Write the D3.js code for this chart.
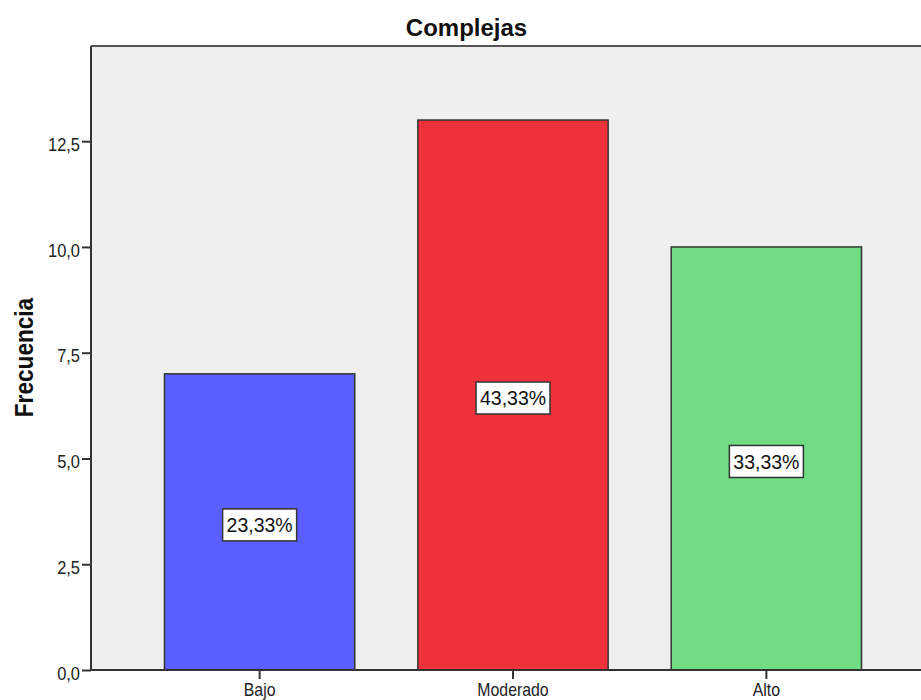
<!DOCTYPE html>
<html>
<head>
<meta charset="utf-8">
<script src="https://cdn.jsdelivr.net/npm/d3@7"></script>
<style>
  html, body { margin: 0; padding: 0; background: #ffffff; }
  svg { display: block; font-family: Arial, "Liberation Sans", sans-serif; }
</style>
</head>
<body>
<svg id="chart" width="921" height="700"></svg>
<script>
// Frequency of "Complejas" by level
const categories = ["Bajo", "Moderado", "Alto"];
const counts = [7, 13, 10];
const percentLabels = ["23,33%", "43,33%", "33,33%"];
const barColors = ["#5b5fff", "#ef3139", "#70dc84"];
const yTicks = [0, 2.5, 5, 7.5, 10, 12.5];
const yMax = 14.75;

const svg = d3.select("#chart");
const plot = { left: 91, top: 46, right: 935, bottom: 670 };

// narrow a text horizontally while keeping its anchor position
function squeeze(sel, k) {
  sel.each(function () {
    const t = d3.select(this);
    const x0 = +t.attr("x") || 0;
    t.attr("x", x0 / k);
    const prev = t.attr("transform");
    t.attr("transform", (prev ? prev + " " : "") + `scale(${k},1)`);
  });
}

const x = d3.scaleBand()
  .domain(categories)
  .range([plot.left, plot.right])
  .paddingInner(0.249)
  .paddingOuter(0.29);

const y = d3.scaleLinear()
  .domain([0, yMax])
  .range([plot.bottom, plot.top]);

// plot background
svg.append("rect")
  .attr("x", plot.left).attr("y", plot.top)
  .attr("width", plot.right - plot.left)
  .attr("height", plot.bottom - plot.top)
  .attr("fill", "#efefef");

// top frame line
svg.append("line")
  .attr("x1", plot.left).attr("x2", plot.right)
  .attr("y1", plot.top).attr("y2", plot.top)
  .attr("stroke", "#555").attr("stroke-width", 2);

// bars
svg.selectAll("rect.bar")
  .data(categories)
  .join("rect")
  .attr("class", "bar")
  .attr("x", d => x(d))
  .attr("y", (d, i) => y(counts[i]))
  .attr("width", x.bandwidth())
  .attr("height", (d, i) => y(0) - y(counts[i]))
  .attr("fill", (d, i) => barColors[i])
  .attr("stroke", "#333")
  .attr("stroke-width", 1.5);

// y axis
const yAxis = svg.append("g")
  .attr("transform", `translate(${plot.left},0)`)
  .call(d3.axisLeft(y)
    .tickValues(yTicks)
    .tickSize(9)
    .tickPadding(2)
    .tickFormat(d => d3.format(".1f")(d).replace(".", ",")));
yAxis.select(".domain").attr("stroke", "#333").attr("stroke-width", 2)
  .attr("d", `M0,${plot.top}V${plot.bottom}`);
yAxis.selectAll(".tick line").attr("stroke", "#333").attr("stroke-width", 2);
yAxis.selectAll(".tick text")
  .attr("fill", "#222")
  .attr("dy", "0.5em")
  .style("font-size", "18.5px")
  .call(squeeze, 0.89);

// x axis
const xAxis = svg.append("g")
  .attr("transform", `translate(0,${plot.bottom})`)
  .call(d3.axisBottom(x).tickSize(9).tickPadding(4));
xAxis.select(".domain").attr("stroke", "#333").attr("stroke-width", 2)
  .attr("d", `M${plot.left},0H${plot.right}`);
xAxis.selectAll(".tick line").attr("stroke", "#333").attr("stroke-width", 2);
xAxis.selectAll(".tick text")
  .attr("fill", "#222")
  .style("font-size", "18px")
  .call(squeeze, 0.88);

// percentage labels inside bars
const labels = svg.selectAll("g.pct")
  .data(categories)
  .join("g")
  .attr("class", "pct")
  .attr("transform", (d, i) =>
    `translate(${x(d) + x.bandwidth() / 2},${(y(counts[i]) + y(0)) / 2 + 3})`);

labels.append("rect")
  .attr("x", -37).attr("y", -16)
  .attr("width", 74).attr("height", 32)
  .attr("fill", "#ffffff")
  .attr("stroke", "#333")
  .attr("stroke-width", 1.5);

labels.append("text")
  .attr("text-anchor", "middle")
  .attr("dy", "0.36em")
  .style("font-size", "19.5px")
  .attr("fill", "#111")
  .text((d, i) => percentLabels[i]);

// title
svg.append("text")
  .attr("x", 466.5).attr("y", 36)
  .attr("text-anchor", "middle")
  .style("font-size", "24px")
  .style("font-weight", "bold")
  .attr("fill", "#111")
  .text("Complejas");

// y axis title
svg.append("text")
  .attr("transform", "translate(33,357.5) rotate(-90)")
  .attr("text-anchor", "middle")
  .style("font-size", "26px")
  .style("font-weight", "bold")
  .attr("fill", "#111")
  .text("Frecuencia")
  .call(squeeze, 0.87);
</script>
</body>
</html>
